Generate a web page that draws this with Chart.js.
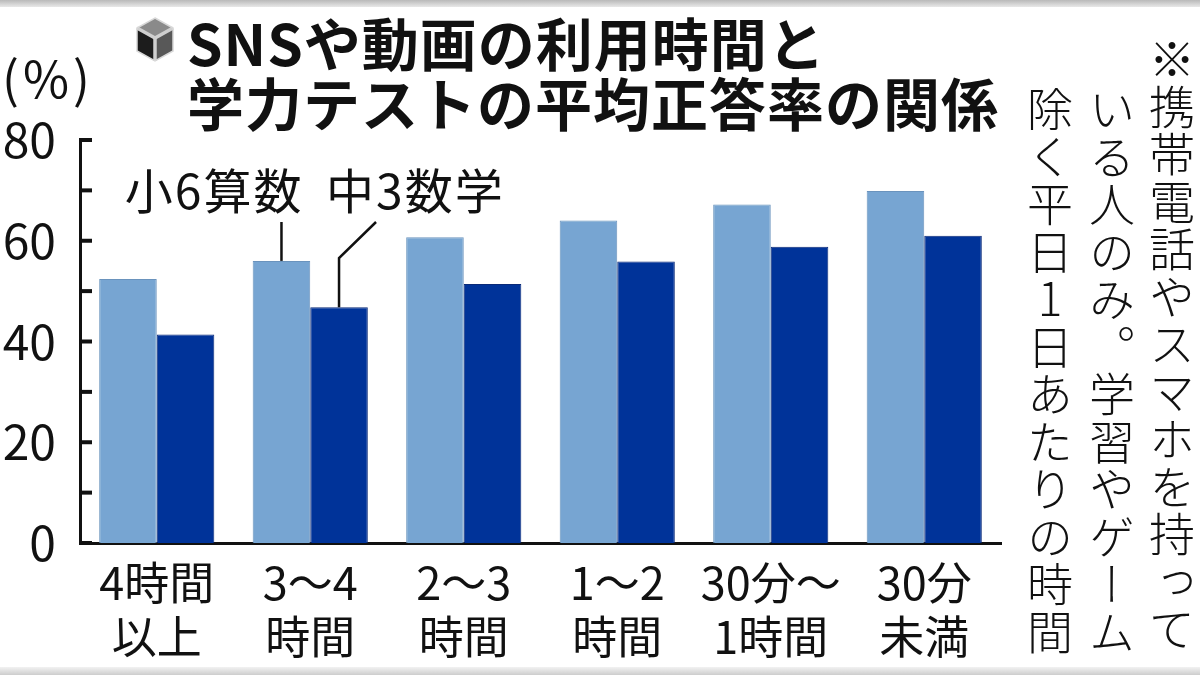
<!DOCTYPE html>
<html lang="ja">
<head>
<meta charset="utf-8">
<script src="https://cdn.jsdelivr.net/npm/chart.js@4.4.1/dist/chart.umd.min.js"></script>
<style>
html,body{margin:0;padding:0;background:#fff;}
#wrap{position:relative;width:1200px;height:675px;overflow:hidden;background:#fff;}
#c{position:absolute;left:0;top:0;}
.topband{position:absolute;left:0;top:0;width:1200px;height:7px;background:linear-gradient(#b9b9b9,#e8e8e8);}
.botband{position:absolute;left:0;bottom:0;width:1200px;height:8px;background:linear-gradient(#f2f2f2,#cdcdcd);}
#title{position:absolute;left:187px;top:11px;font-family:"Noto Sans CJK JP","Noto Sans",sans-serif;font-weight:700;font-size:57px;line-height:60px;letter-spacing:1px;color:#111;white-space:nowrap;}
#unit{position:absolute;left:2px;top:47px;font-family:"Noto Sans CJK JP","Noto Sans",sans-serif;font-weight:400;font-size:50px;line-height:58px;letter-spacing:4px;color:#111;white-space:nowrap;}
.note{position:absolute;writing-mode:vertical-rl;text-orientation:upright;font-family:"Noto Sans CJK JP",sans-serif;font-weight:300;font-size:46px;line-height:61px;letter-spacing:1.5px;color:#111;white-space:nowrap;}
#icon{position:absolute;left:134px;top:16px;}
</style>
</head>
<body>
<div id="wrap">
  <canvas id="c" width="1200" height="675"></canvas>
  <div class="topband"></div>
  <div class="botband"></div>
  <svg id="icon" width="42" height="48" viewBox="0 0 42 48">
    <polygon points="21,2 39,12 21,22 3,12" fill="#8a8a8a"/>
    <polygon points="3,12 21,22 21,45 3,35" fill="#1c1c1c"/>
    <polygon points="21,22 39,12 39,35 21,45" fill="#585858"/>
    <polyline points="3,12 21,22 39,12" fill="none" stroke="#cfcfcf" stroke-width="3.5"/>
    <line x1="21" y1="22" x2="21" y2="45" stroke="#cfcfcf" stroke-width="3.5"/>
    <polygon points="21,2 39,12 39,35 21,45 3,35 3,12" fill="none" stroke="#d8d8d8" stroke-width="1.5"/>
  </svg>
  <div id="title">SNSや動画の利用時間と<br>学力テストの平均正答率の関係</div>
  <div id="unit">(%)</div>
  <div class="note" style="left:1141px;top:36px;">※携帯電話やスマホを持って</div>
  <div class="note" style="left:1081px;top:86px;">いる人のみ。学習やゲーム</div>
  <div class="note" style="left:1019px;top:86px;">除く平日1日あたりの時間</div>
</div>
<script>
// ---- data ----
const categories = [["4時間","以上"],["3～4","時間"],["2～3","時間"],["1～2","時間"],["30分～","1時間"],["30分","未満"]];
const seriesNames = ["小6算数","中3数学"];
const elementaryMath = [52.4, 56.0, 60.7, 64.0, 67.2, 69.9];
const juniorMath = [41.4, 46.8, 51.4, 55.9, 58.8, 61.0];
const yMin = 0, yMax = 80, yStep = 10, yLabelStep = 20;

const jpFamily = '"Noto Sans CJK JP", "Noto Sans", sans-serif';

const innerTicks = {
  id:'innerTicks',
  afterDatasetsDraw(chart){
    const ys = chart.scales.y, ctx = chart.ctx;
    ctx.save();
    ctx.strokeStyle = '#111';
    ctx.lineWidth = 4;
    ys.ticks.forEach(t => {
      const py = ys.getPixelForValue(t.value);
      ctx.beginPath();
      ctx.moveTo(ys.right - 1, py);
      ctx.lineTo(ys.right + 12, py);
      ctx.stroke();
    });
    ctx.restore();
  }
};

const callouts = {
  id:'callouts',
  afterDatasetsDraw(chart){
    const ctx = chart.ctx;
    const a = chart.getDatasetMeta(0).data[1];
    const b = chart.getDatasetMeta(1).data[1];
    const top = chart.chartArea.top;
    const textY = top + 51;
    const lineTop = top + 82;
    ctx.save();
    ctx.fillStyle = '#111';
    ctx.font = '400 48px ' + jpFamily;
    ctx.textBaseline = 'middle';
    try { ctx.letterSpacing = '2px'; } catch(e) {}
    ctx.textAlign = 'right';
    ctx.fillText(seriesNames[0], a.x + 22, textY);
    ctx.textAlign = 'left';
    ctx.fillText(seriesNames[1], b.x - 13, textY);
    ctx.strokeStyle = '#111';
    ctx.lineWidth = 2.5;
    ctx.beginPath();
    ctx.moveTo(a.x, lineTop);
    ctx.lineTo(a.x, a.y);
    ctx.stroke();
    ctx.beginPath();
    ctx.moveTo(b.x + 37, lineTop);
    ctx.lineTo(b.x, lineTop + 36);
    ctx.lineTo(b.x, b.y);
    ctx.stroke();
    ctx.restore();
  }
};

new Chart(document.getElementById('c'), {
  type:'bar',
  data:{
    labels: categories,
    datasets:[
      {label:seriesNames[0], data:elementaryMath, backgroundColor:'#77a5d2', borderColor:'#6a93bd', borderWidth:1},
      {label:seriesNames[1], data:juniorMath, backgroundColor:'#003399', borderColor:'#0a2a78', borderWidth:1}
    ]
  },
  options:{
    responsive:false,
    animation:false,
    devicePixelRatio:1,
    layout:{padding:{top:140, right:199, bottom:0, left:0}},
    datasets:{bar:{categoryPercentage:0.75, barPercentage:1.0}},
    plugins:{legend:{display:false}, title:{display:false}, tooltip:{enabled:false}},
    scales:{
      x:{
        grid:{display:false},
        border:{display:true, color:'#111', width:3},
        ticks:{color:'#111', padding:5, maxRotation:0, autoSkip:false, font:{family:jpFamily, size:45, lineHeight:1.2}},
        afterFit(s){ s.height = 132; }
      },
      y:{
        min:yMin, max:yMax,
        grid:{display:false},
        border:{display:true, color:'#111', width:3},
        ticks:{stepSize:yStep, autoSkip:false, color:'#111', padding:16, font:{family:jpFamily, size:48},
          callback:(v)=> (v % yLabelStep === 0 ? String(v) : '')},
        afterFit(s){ s.width = 80; }
      }
    }
  },
  plugins:[innerTicks, callouts]
});
</script>
</body>
</html>
